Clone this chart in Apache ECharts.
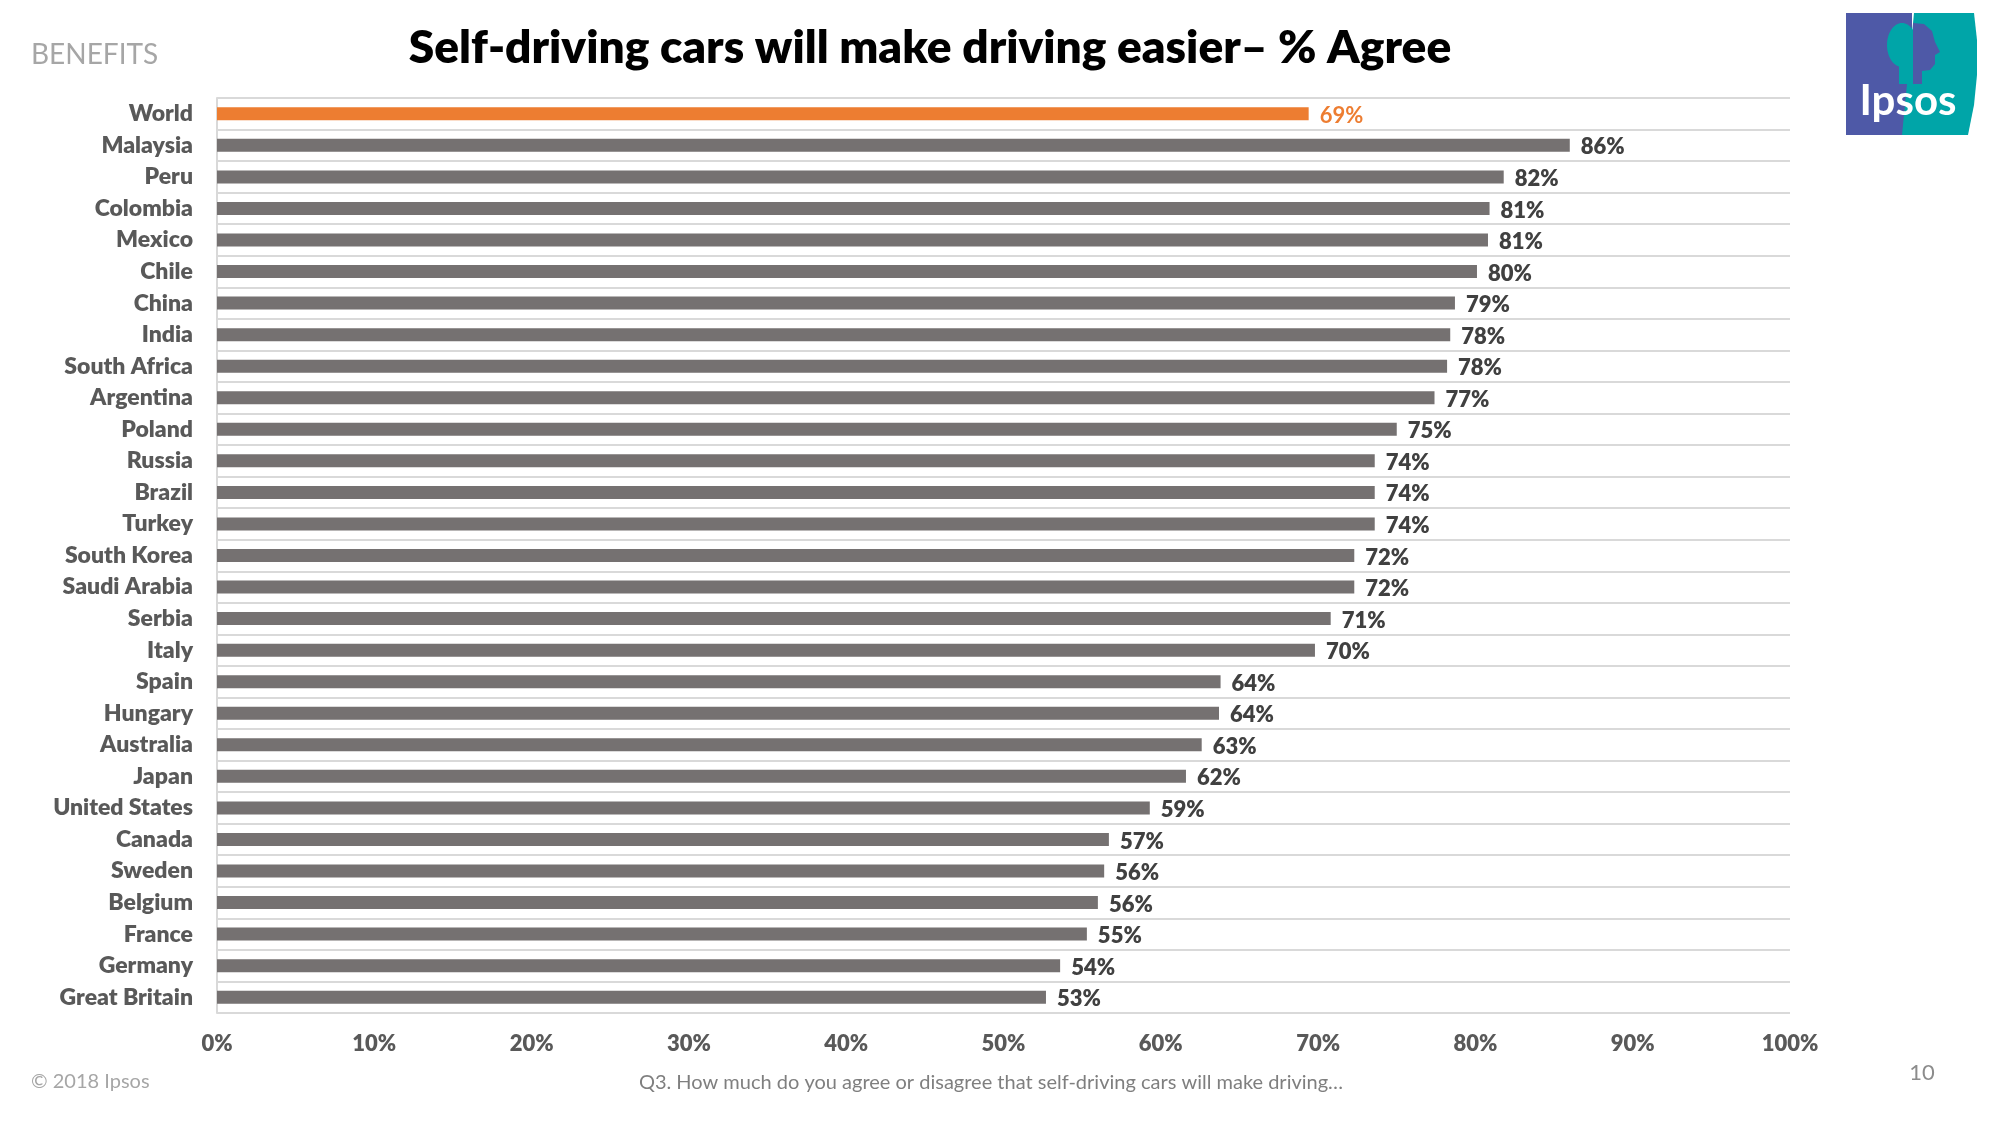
<!DOCTYPE html>
<html>
<head>
<meta charset="utf-8">
<script src="https://cdn.jsdelivr.net/npm/echarts@6/dist/echarts.min.js"></script>
<style>html,body{margin:0;padding:0;background:#fff}#c{width:2000px;height:1125px}</style>
</head>
<body>
<div id="c"></div>
<script>
const categories = ["World","Malaysia","Peru","Colombia","Mexico","Chile","China","India","South Africa","Argentina","Poland","Russia","Brazil","Turkey","South Korea","Saudi Arabia","Serbia","Italy","Spain","Hungary","Australia","Japan","United States","Canada","Sweden","Belgium","France","Germany","Great Britain"];
const values = [69.4,86.0,81.8,80.9,80.8,80.1,78.7,78.4,78.2,77.4,75.0,73.6,73.6,73.6,72.3,72.3,70.8,69.8,63.8,63.7,62.6,61.6,59.3,56.7,56.4,56.0,55.3,53.6,52.7];
const xTicks = [0,10,20,30,40,50,60,70,80,90,100];
const highlight = "World";

const FONT = "Lato";
const W = 800;
const chart = echarts.init(document.getElementById('c'));
const data = values.map((v,i)=>{
  const hl = categories[i]===highlight;
  return {
    value: v,
    itemStyle: {color: hl ? '#ED7D31' : '#757171'},
    label: {color: hl ? '#ED7D31' : '#404040', fontWeight: hl ? 'bold' : W}
  };
});
chart.setOption({
  animation:false,
  textStyle:{fontFamily:FONT},
  grid:{left:217,right:210,top:98,bottom:112,containLabel:false},
  xAxis:{
    type:'value',min:xTicks[0],max:xTicks[xTicks.length-1],interval:10,
    axisLine:{show:false},axisTick:{show:false},splitLine:{show:false},
    axisLabel:{formatter:v=>v+'%',fontSize:22,fontWeight:W,color:'#595959',margin:20,fontFamily:FONT}
  },
  yAxis:{
    type:'category',data:categories,inverse:true,
    axisLine:{show:true,lineStyle:{color:'#d9d9d9',width:2}},
    axisTick:{show:false},
    splitLine:{show:true,lineStyle:{color:'#d9d9d9',width:2}},
    axisLabel:{fontSize:23,fontWeight:W,color:'#595959',margin:24,fontFamily:FONT}
  },
  series:[{
    type:'bar',data:data,barWidth:13,
    label:{show:true,position:'right',distance:11,fontSize:22,fontFamily:FONT,offset:[0,2],
      formatter:p=>Math.round(p.value)+'%'}
  }],
  graphic:[
    {type:'text',x:31,y:55,style:{text:'BENEFITS',fontSize:28,fill:'#a6a6a6',fontFamily:FONT,textVerticalAlign:'middle'}},
    {type:'text',x:930,y:48,style:{text:'Self-driving cars will make driving easier– % Agree',fontSize:46,fontWeight:W,fill:'#000',fontFamily:FONT,textAlign:'center',textVerticalAlign:'middle'}},
    {type:'text',x:31,y:1082,style:{text:'© 2018 Ipsos',fontSize:20,fill:'#a6a6a6',fontFamily:FONT,textVerticalAlign:'middle'}},
    {type:'text',x:991,y:1083,style:{text:'Q3. How much do you agree or disagree that self-driving cars will make driving…',fontSize:20,fill:'#7f7f7f',fontFamily:FONT,textAlign:'center',textVerticalAlign:'middle'}},
    {type:'text',x:1922,y:1073,style:{text:'10',fontSize:22,fill:'#8c8c8c',fontFamily:FONT,textAlign:'center',textVerticalAlign:'middle'}},
    {type:'rect',shape:{x:1846,y:13,width:66,height:122},style:{fill:'#4E59A7'}},
    {type:'polygon',shape:{points:[[1914,13],[1974,13],[1977,40],[1977,75],[1974,105],[1968,135],[1902,135]]},style:{fill:'#00A5A8'}},
    {type:'ellipse',shape:{cx:1902,cy:45,rx:15,ry:22},style:{fill:'#00A5A8'}},
    {type:'rect',shape:{x:1899,y:60,width:14,height:24},style:{fill:'#00A5A8'}},
    {type:'polygon',shape:{points:[[1913,23],[1924,24],[1932,31],[1935,42],[1940,52],[1935,55],[1935,64],[1930,70],[1922,71],[1922,84],[1913,84]]},style:{fill:'#4E59A7'}},
    {type:'text',x:1908,y:101,style:{text:'Ipsos',fontSize:42,fontWeight:'bold',fill:'#fff',fontFamily:FONT,textAlign:'center',textVerticalAlign:'middle'}}
  ]
});
</script>
</body>
</html>
